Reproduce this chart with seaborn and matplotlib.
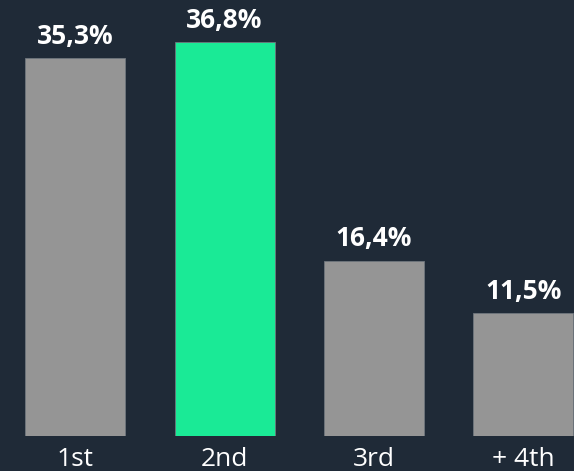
import matplotlib
matplotlib.use('Agg')
import matplotlib.pyplot as plt
import seaborn as sns
import pandas as pd

# %% data
places = ['1st', '2nd', '3rd', '+ 4th']
shares = [35.3, 36.8, 16.4, 11.5]
labels = ['35,3%', '36,8%', '16,4%', '11,5%']
highlight = '2nd'

bg = '#1f2a37'
gray = '#959595'
green = '#1aea96'

df = pd.DataFrame({'place': places, 'share': shares})
palette = {p: (green if p == highlight else gray) for p in places}

# %% plot
sns.set_style('dark')
plt.rcParams['font.family'] = ['Open Sans', 'DejaVu Sans']
fig = plt.figure(figsize=(5.74, 4.71), dpi=100, facecolor=bg)
ax = fig.add_axes([0, 1 - 436 / 471, 1, 436 / 471])
ax.set_facecolor(bg)
sns.barplot(data=df, x='place', y='share', hue='place', palette=palette,
            saturation=1, width=0.669, edgecolor='#6f767d', linewidth=0.6,
            legend=False, ax=ax)
ax.set_xlim(-0.502, 3.338)
ax.set_ylim(0, 436 / 10.7)

for i, (v, lab) in enumerate(zip(shares, labels)):
    ax.annotate(lab, (i, v), xytext=(0, 6), textcoords='offset points',
                ha='center', va='bottom', color='white',
                fontsize=19, fontweight='bold')

ax.set_xlabel('')
ax.set_ylabel('')
ax.set_yticks([])
ax.tick_params(axis='x', colors='white', labelsize=19, length=0, pad=8)
for s in ax.spines.values():
    s.set_visible(False)
ax.grid(False)

fig.savefig('out.png', dpi=100, facecolor=bg)
